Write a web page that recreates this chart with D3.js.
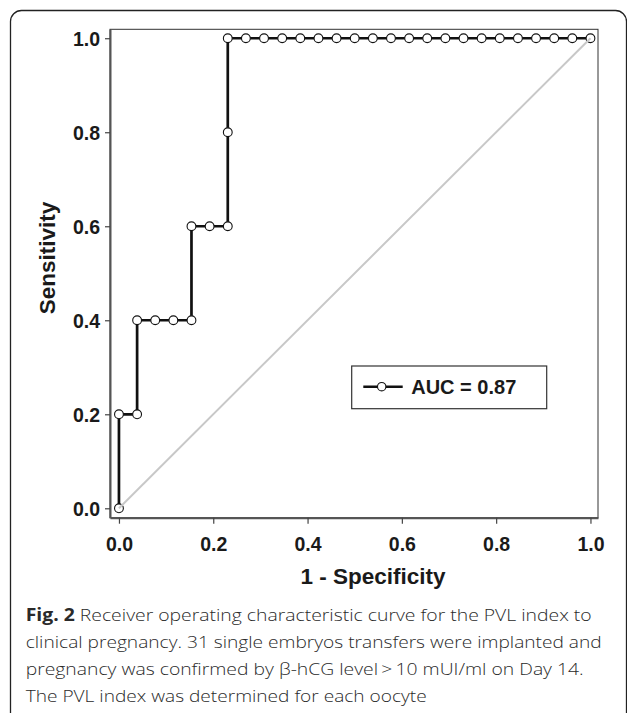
<!DOCTYPE html>
<html>
<head>
<meta charset="utf-8">
<script src="https://cdn.jsdelivr.net/npm/d3@7"></script>
<style>
  html, body { margin: 0; padding: 0; background: #fff; }
  svg { display: block; }
</style>
</head>
<body>
<div id="chart"></div>
<script>
// ROC points (26 negatives, 5 positives)
var fpr = [0, 0, 0.0385, 0.0385, 0.0769, 0.1154, 0.1538, 0.1538, 0.1923, 0.2308,
  0.2308, 0.2308, 0.2692, 0.3077, 0.3462, 0.3846, 0.4231, 0.4615, 0.5, 0.5385,
  0.5769, 0.6154, 0.6538, 0.6923, 0.7308, 0.7692, 0.8077, 0.8462, 0.8846, 0.9231,
  0.9615, 1.0];
var sensitivity = [0, 0.2, 0.2, 0.4, 0.4, 0.4, 0.4, 0.6, 0.6, 0.6,
  0.8, 1.0, 1.0, 1.0, 1.0, 1.0, 1.0, 1.0, 1.0, 1.0,
  1.0, 1.0, 1.0, 1.0, 1.0, 1.0, 1.0, 1.0, 1.0, 1.0,
  1.0, 1.0];
var refLine = [0, 1];
var xTicks = [0, 0.2, 0.4, 0.6, 0.8, 1.0];
var yTicks = [0, 0.2, 0.4, 0.6, 0.8, 1.0];
var legendLabel = "AUC = 0.87";
var xTitle = "1 - Specificity";
var yTitle = "Sensitivity";
var captionLines = [
  ["Fig. 2", " Receiver operating characteristic curve for the PVL index to"],
  ["", "clinical pregnancy. 31 single embryos transfers were implanted and"],
  ["", "pregnancy was confirmed by \u03b2-hCG level\u2009>\u200910 mUI/ml on Day 14."],
  ["", "The PVL index was determined for each oocyte"]
];
var captionWidths = [566, 576, 558, 401];

var W = 627, H = 713;
var box = { left: 110, top: 29.3, right: 598, bottom: 517.7 };

var svg = d3.select("#chart").append("svg")
  .attr("width", W)
  .attr("height", H);

// outer rounded frame
svg.append("rect")
  .attr("x", 10.5).attr("y", 10.5)
  .attr("width", 616).attr("height", 720)
  .attr("rx", 11)
  .attr("fill", "none")
  .attr("stroke", "#222")
  .attr("stroke-width", 1.3);

var x = d3.scaleLinear().domain([-0.019, 1.016]).range([box.left, box.right]);
var y = d3.scaleLinear().domain([-0.02, 1.019]).range([box.bottom, box.top]);

// plot box (top/right)
svg.append("rect")
  .attr("x", box.left).attr("y", box.top)
  .attr("width", box.right - box.left).attr("height", box.bottom - box.top)
  .attr("fill", "none")
  .attr("stroke", "#333")
  .attr("stroke-width", 1);

var fmt = d3.format(".1f");

var yAxis = svg.append("g")
  .attr("transform", "translate(" + box.left + ",0)")
  .call(d3.axisLeft(y).tickValues(yTicks).tickFormat(fmt).tickSize(5).tickSizeOuter(0).tickPadding(5));
var xAxis = svg.append("g")
  .attr("transform", "translate(0," + box.bottom + ")")
  .call(d3.axisBottom(x).tickValues(xTicks).tickFormat(fmt).tickSize(6).tickSizeOuter(0).tickPadding(9));

[xAxis, yAxis].forEach(function(ax) {
  ax.select(".domain").attr("stroke", "#555").attr("stroke-width", 2);
  ax.selectAll(".tick line").attr("stroke", "#444").attr("stroke-width", 1.2);
  ax.selectAll(".tick text")
    .attr("fill", "#1a1a1a")
    .style("font-family", "'Liberation Sans', Arial, sans-serif")
    .style("font-weight", "bold")
    .style("font-size", "19.5px");
});
xAxis.selectAll(".tick text").attr("dy", "0.93em");
yAxis.selectAll(".tick text").attr("dy", "0.36em");

// axis titles
svg.append("text")
  .attr("x", 373).attr("y", 583.5)
  .attr("text-anchor", "middle")
  .style("font-family", "'Liberation Sans', Arial, sans-serif")
  .style("font-weight", "bold")
  .style("font-size", "22.5px")
  .attr("fill", "#1a1a1a")
  .text(xTitle);

svg.append("text")
  .attr("transform", "translate(55,258) rotate(-90)")
  .attr("text-anchor", "middle")
  .style("font-family", "'Liberation Sans', Arial, sans-serif")
  .style("font-weight", "bold")
  .style("font-size", "22.5px")
  .attr("fill", "#1a1a1a")
  .text(yTitle);

// ROC curve
var pts = fpr.map(function(d, i) { return [d, sensitivity[i]]; });
var line = d3.line().x(function(d) { return x(d[0]); }).y(function(d) { return y(d[1]); });

svg.append("path")
  .datum(pts)
  .attr("d", line)
  .attr("fill", "none")
  .attr("stroke", "#111")
  .attr("stroke-width", 2.7);

svg.selectAll(".pt")
  .data(pts)
  .enter().append("circle")
  .attr("class", "pt")
  .attr("cx", function(d) { return x(d[0]); })
  .attr("cy", function(d) { return y(d[1]); })
  .attr("r", 4.4)
  .attr("fill", "#fff")
  .attr("stroke", "#111")
  .attr("stroke-width", 1.1);

// chance diagonal (drawn over the end markers, as in the figure)
svg.append("line")
  .attr("x1", x(refLine[0])).attr("y1", y(refLine[0]))
  .attr("x2", x(refLine[1])).attr("y2", y(refLine[1]))
  .attr("stroke", "#c8c8c8")
  .attr("stroke-width", 2);

// legend
var leg = svg.append("g").attr("transform", "translate(351.7,366)");
leg.append("rect")
  .attr("width", 195).attr("height", 42.7)
  .attr("fill", "#fff")
  .attr("stroke", "#333")
  .attr("stroke-width", 1.2);
leg.append("line")
  .attr("x1", 11.6).attr("x2", 51).attr("y1", 20.7).attr("y2", 20.7)
  .attr("stroke", "#111").attr("stroke-width", 2.5);
leg.append("circle")
  .attr("cx", 30).attr("cy", 20.7).attr("r", 4.2)
  .attr("fill", "#fff").attr("stroke", "#111").attr("stroke-width", 1.1);
leg.append("text")
  .attr("x", 59.5).attr("y", 27.5)
  .style("font-family", "'Liberation Sans', Arial, sans-serif")
  .style("font-weight", "bold")
  .style("font-size", "20px")
  .attr("fill", "#1a1a1a")
  .text(legendLabel);

// caption
var cap = svg.append("g");
captionLines.forEach(function(l, i) {
  var t = cap.append("text")
    .attr("x", 25.7)
    .attr("y", 621 + i * 27)
    .attr("textLength", captionWidths[i])
    .attr("lengthAdjust", "spacingAndGlyphs")
    .style("font-family", "'Open Sans', 'Noto Sans', sans-serif")
    .style("font-size", "17px")
    .style("font-weight", "300")
    .attr("fill", "#2a2a2a");
  if (l[0]) {
    t.append("tspan").style("font-weight", "bold").text(l[0]);
  }
  t.append("tspan").text(l[1]);
});
</script>
</body>
</html>
